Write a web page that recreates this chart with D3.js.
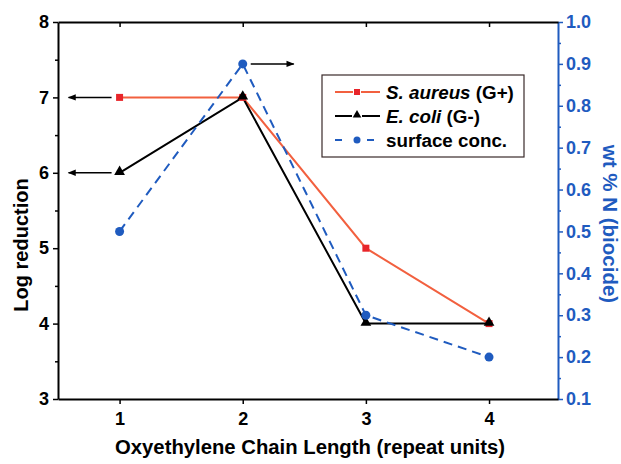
<!DOCTYPE html>
<html>
<head>
<meta charset="utf-8">
<script src="https://cdn.jsdelivr.net/npm/d3@7"></script>
<style>
  body { margin: 0; background: #fff; }
  svg { font-family: "Liberation Sans", Arial, sans-serif; font-weight: bold; }
</style>
</head>
<body>
<div id="chart"></div>
<script>
    var chainLength = [1, 2, 3, 4];
    var sAureus = [7, 7, 5, 4];
    var eColi = [6, 7, 4, 4];
    var surfaceConc = [0.5, 0.9, 0.3, 0.2];
    var leftTicks = [3, 4, 5, 6, 7, 8];
    var rightTicks = [0.1, 0.2, 0.3, 0.4, 0.5, 0.6, 0.7, 0.8, 0.9, 1.0];

    var red = "#f2603f", redMark = "#e8252a", blue = "#1f5bbf";

    var svg = d3.select("#chart")
                .append("svg")
                .attr("width", 621)
                .attr("height", 464);

    var margin = { top: 22, right: 63, bottom: 65, left: 58 };
    var x0 = margin.left, x1 = 621 - margin.right;
    var y0 = 464 - margin.bottom, y1 = margin.top;

    var xScale = d3.scaleLinear().domain([0.5, 4.56]).range([x0, x1]);
    var yScale = d3.scaleLinear().domain([3, 8]).range([y0, y1]);
    var y2Scale = d3.scaleLinear().domain([0.1, 1.0]).range([y0, y1]);

    // minor ticks
    var leftMinor = d3.range(3.5, 8, 1);
    var rightMinor = d3.range(0.15, 1.0, 0.1);

    svg.append("g")
       .attr("transform", `translate(${x0},0)`)
       .call(d3.axisLeft(yScale).tickValues(leftMinor).tickSize(3).tickFormat(""))
       .call(g => g.select(".domain").remove());
    var gl = svg.append("g")
       .attr("transform", `translate(${x0},0)`)
       .call(d3.axisLeft(yScale).tickValues(leftTicks).tickSize(5).tickSizeOuter(0).tickPadding(4)
             .tickFormat(d3.format("d")));

    svg.append("g")
       .attr("transform", `translate(${x1},0)`)
       .call(d3.axisRight(y2Scale).tickValues(rightMinor).tickSize(3).tickFormat(""))
       .call(g => g.select(".domain").remove())
       .selectAll("line").attr("stroke", blue);
    var gr = svg.append("g")
       .attr("transform", `translate(${x1},0)`)
       .call(d3.axisRight(y2Scale).tickValues(rightTicks).tickSize(5).tickSizeOuter(0).tickPadding(3)
             .tickFormat(d3.format(".1f")));
    gr.selectAll("line, .domain").attr("stroke", blue);
    gr.selectAll("text").attr("fill", blue);

    svg.append("g")
       .attr("transform", `translate(0,${y0})`)
       .call(d3.axisBottom(xScale).tickValues(chainLength).tickSize(5).tickSizeOuter(0).tickPadding(8)
             .tickFormat(d3.format("d")));

    svg.append("g")
       .attr("transform", `translate(0,${y1})`)
       .call(d3.axisBottom(xScale).tickValues(chainLength).tickSize(5).tickSizeOuter(0).tickFormat(""));

    svg.selectAll(".domain").attr("stroke-width", 2);
    svg.selectAll(".tick line").attr("stroke-width", 1.5);
    svg.selectAll(".tick text").style("font-size", "18px").style("font-weight", "bold");

    // axis titles
    svg.append("text")
       .attr("x", (x0 + x1) / 2 + 2)
       .attr("y", 454)
       .style("text-anchor", "middle")
       .style("font-size", "20.3px")
       .text("Oxyethylene Chain Length (repeat units)");

    svg.append("text")
       .attr("transform", "translate(28,245) rotate(-90)")
       .style("text-anchor", "middle")
       .style("font-size", "20px")
       .text("Log reduction");

    svg.append("text")
       .attr("transform", "translate(603,224) rotate(90)")
       .style("text-anchor", "middle")
       .style("font-size", "20.5px")
       .attr("fill", blue)
       .text("wt % N (biocide)");

    // lines
    var lineL = d3.line().x((d, i) => xScale(chainLength[i])).y(d => yScale(d));
    var lineR = d3.line().x((d, i) => xScale(chainLength[i])).y(d => y2Scale(d));

    svg.append("path").datum(sAureus)
       .attr("fill", "none").attr("stroke", red).attr("stroke-width", 2).attr("d", lineL);
    svg.append("path").datum(eColi)
       .attr("fill", "none").attr("stroke", "#000").attr("stroke-width", 2).attr("d", lineL);
    svg.append("path").datum(surfaceConc)
       .attr("fill", "none").attr("stroke", blue).attr("stroke-width", 2)
       .attr("stroke-dasharray", "9,6").attr("d", lineR);

    var tri = d3.symbol().type(d3.symbolTriangle).size(50);

    svg.selectAll(".sq").data(sAureus).enter().append("rect")
       .attr("x", (d, i) => xScale(chainLength[i]) - 3.5)
       .attr("y", d => yScale(d) - 3.5)
       .attr("width", 7).attr("height", 7).attr("fill", redMark);
    svg.selectAll(".tri").data(eColi).enter().append("path")
       .attr("d", tri)
       .attr("transform", (d, i) => `translate(${xScale(chainLength[i])},${yScale(d) - 1})`)
       .attr("fill", "#000");
    svg.selectAll(".dot").data(surfaceConc).enter().append("circle")
       .attr("cx", (d, i) => xScale(chainLength[i]))
       .attr("cy", d => y2Scale(d))
       .attr("r", 4.5).attr("fill", blue);

    // arrows indicating axis
    svg.append("defs").append("marker")
       .attr("id", "arr").attr("viewBox", "0 0 10 10")
       .attr("refX", 9).attr("refY", 5)
       .attr("markerWidth", 10).attr("markerHeight", 8)
       .attr("markerUnits", "userSpaceOnUse")
       .attr("orient", "auto")
       .append("path").attr("d", "M0,1 L10,5 L0,9 Z").attr("fill", "#000");

    var arrows = [
      { x: 1, v: 7, axis: "L", dir: -1 },
      { x: 1, v: 6, axis: "L", dir: -1 },
      { x: 2, v: 0.9, axis: "R", dir: 1 }
    ];
    svg.selectAll(".arrow").data(arrows).enter().append("line")
       .attr("x1", d => xScale(d.x) + d.dir * 8)
       .attr("x2", d => xScale(d.x) + d.dir * 51)
       .attr("y1", d => d.axis === "L" ? yScale(d.v) : y2Scale(d.v))
       .attr("y2", d => d.axis === "L" ? yScale(d.v) : y2Scale(d.v))
       .attr("stroke", "#000").attr("stroke-width", 1.5)
       .attr("marker-end", "url(#arr)");

    // legend
    var legend = svg.append("g").attr("transform", "translate(322,75)");
    legend.append("rect").attr("width", 202).attr("height", 82)
          .attr("fill", "#fff").attr("stroke", "#3a2a2a").attr("stroke-width", 1.2);

    var items = [
      { color: red, mark: "sq", dash: null, parts: [["S. aureus", true], [" (G+)", false]] },
      { color: "#000", mark: "tri", dash: null, parts: [["E. coli", true], [" (G-)", false]] },
      { color: blue, mark: "dot", dash: "7,9", parts: [["surface conc.", false]] }
    ];
    items.forEach(function (it, i) {
      var g = legend.append("g").attr("transform", `translate(0,${17 + i * 24})`);
      g.append("line").attr("x1", 13).attr("x2", 58).attr("y1", 0).attr("y2", 0)
       .attr("stroke", it.color).attr("stroke-width", 2)
       .attr("stroke-dasharray", it.dash);
      if (it.mark === "sq") {
        g.append("rect").attr("x", 31).attr("y", -4).attr("width", 8).attr("height", 8)
         .attr("fill", "#fff");
        g.append("rect").attr("x", 32).attr("y", -3).attr("width", 6).attr("height", 6)
         .attr("fill", redMark);
      } else if (it.mark === "tri") {
        g.append("rect").attr("x", 30).attr("y", -4).attr("width", 10).attr("height", 8).attr("fill", "#fff");
        g.append("path").attr("d", d3.symbol().type(d3.symbolTriangle).size(32))
         .attr("transform", "translate(35,-1)").attr("fill", "#000");
      } else {
        g.append("rect").attr("x", 28).attr("y", -4).attr("width", 13).attr("height", 8).attr("fill", "#fff");
        g.append("circle").attr("cx", 35).attr("cy", 0).attr("r", 3.5).attr("fill", blue);
      }
      var t = g.append("text").attr("x", 64).attr("y", 6.5).style("font-size", "18.8px");
      it.parts.forEach(function (p) {
        t.append("tspan").style("font-style", p[1] ? "italic" : "normal").text(p[0]);
      });
    });
</script>
</body>
</html>
